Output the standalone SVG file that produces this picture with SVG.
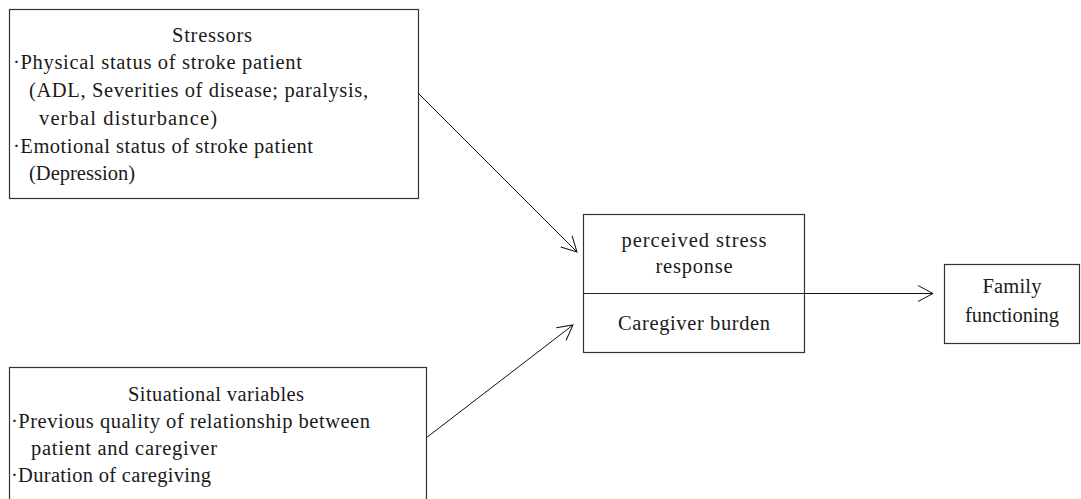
<svg xmlns="http://www.w3.org/2000/svg" width="1081" height="499" viewBox="0 0 1081 499">
<style>
  .box { fill: #ffffff; stroke: #333333; stroke-width: 1.2; }
  .t { font-family: "Liberation Serif", "Times New Roman", serif; font-size: 20.5px; fill: #1a1a1a; }
  .c { text-anchor: middle; }
  .conn { stroke: #111111; stroke-width: 1; fill: none; }
</style>
<defs>
  <marker id="open" markerUnits="userSpaceOnUse" viewBox="-18 -10 20 20" markerWidth="20" markerHeight="20" refX="0" refY="0" orient="auto" overflow="visible">
    <path d="M -15 -8 L 0 0 L -15 8" fill="none" stroke="#111111" stroke-width="1"/>
  </marker>
</defs>
<rect x="0" y="0" width="1081" height="499" fill="#ffffff"/>

<g id="stressors">
  <rect class="box" x="9.5" y="9.5" width="409" height="189"/>
  <text class="t c" x="212" y="42" textLength="80" lengthAdjust="spacing">Stressors</text>
  <text class="t" x="13" y="69" textLength="289" lengthAdjust="spacing">·Physical status of stroke patient</text>
  <text class="t" x="29" y="97" textLength="339" lengthAdjust="spacing">(ADL, Severities of disease; paralysis,</text>
  <text class="t" x="39" y="125" textLength="178" lengthAdjust="spacing">verbal disturbance)</text>
  <text class="t" x="13" y="153" textLength="300" lengthAdjust="spacing">·Emotional status of stroke patient</text>
  <text class="t" x="29" y="180" textLength="106" lengthAdjust="spacing">(Depression)</text>
</g>

<g id="situational">
  <rect class="box" x="9.5" y="367.5" width="417" height="140"/>
  <text class="t c" x="216" y="401" textLength="176" lengthAdjust="spacing">Situational variables</text>
  <text class="t" x="11" y="428" textLength="359" lengthAdjust="spacing">·Previous quality of relationship between</text>
  <text class="t" x="31" y="455" textLength="186" lengthAdjust="spacing">patient and caregiver</text>
  <text class="t" x="11" y="482" textLength="200" lengthAdjust="spacing">·Duration of caregiving</text>
</g>

<g id="stress-response">
  <rect class="box" x="583.5" y="214.5" width="221" height="138"/>
  <line x1="583.5" y1="293.5" x2="804.5" y2="293.5" stroke="#222222" stroke-width="1"/>
  <text class="t c" x="694" y="247" textLength="145" lengthAdjust="spacing">perceived stress</text>
  <text class="t c" x="694" y="273" textLength="77" lengthAdjust="spacing">response</text>
  <text class="t c" x="694" y="330" textLength="152" lengthAdjust="spacing">Caregiver burden</text>
</g>

<g id="family">
  <rect class="box" x="944.5" y="264.5" width="135" height="79"/>
  <text class="t c" x="1012" y="293" textLength="59" lengthAdjust="spacing">Family</text>
  <text class="t c" x="1012" y="322" textLength="94" lengthAdjust="spacing">functioning</text>
</g>

<g id="connectors">
  <line class="conn" x1="418" y1="93" x2="577" y2="252" marker-end="url(#open)"/>
  <line class="conn" x1="426" y1="438" x2="573" y2="325" marker-end="url(#open)"/>
  <line class="conn" x1="804.5" y1="293.5" x2="933" y2="293.5" marker-end="url(#open)"/>
</g>
</svg>
